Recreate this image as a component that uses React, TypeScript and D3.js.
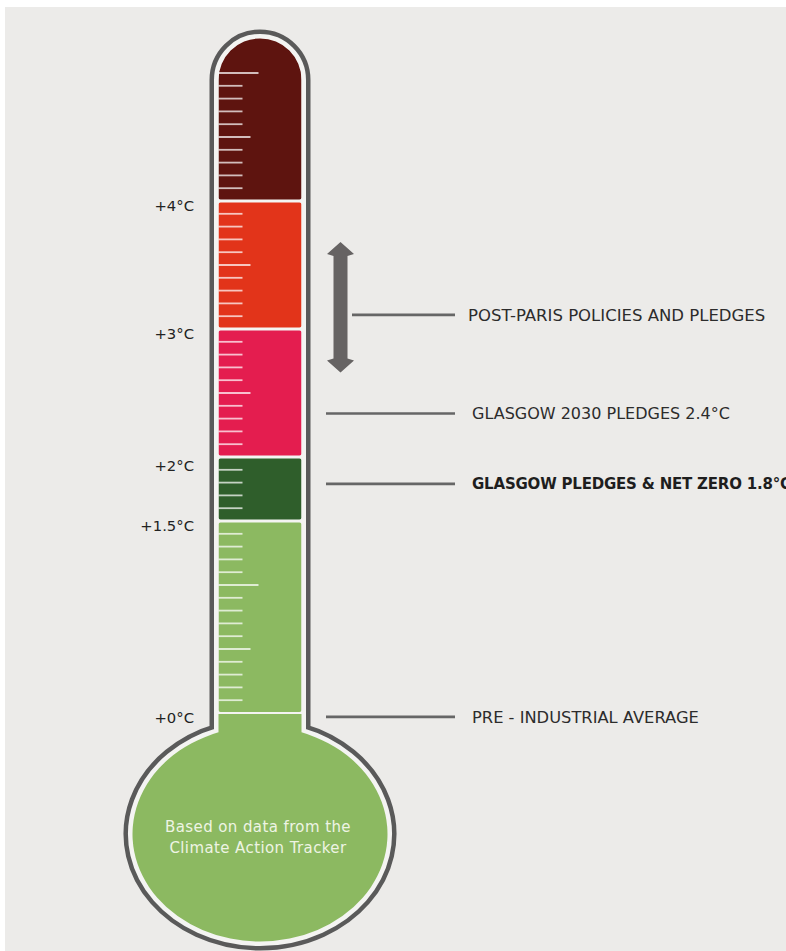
import React from "react";
import * as d3 from "d3";

// ---- data ----
const bandLows = [4, 3, 2, 1.5, 0];
const bandHighs = [5.27, 4, 3, 2, 1.5];
const bandColors = ["#5e140f", "#e2341a", "#e41d4f", "#2f5e2b", "#8cb961"];
const scaleLabels = ["+4°C", "+3°C", "+2°C", "+1.5°C", "+0°C"];
const scaleValues = [4, 3, 2, 1.5, 0];
const annotations = [
  "POST-PARIS POLICIES AND PLEDGES",
  "GLASGOW 2030 PLEDGES 2.4°C",
  "GLASGOW PLEDGES & NET ZERO 1.8°C",
  "PRE - INDUSTRIAL AVERAGE",
];
const annotationValues = [3.11, 2.34, 1.79, -0.03];
const annotationBold = [false, false, true, false];
const rangeArrow = [2.66, 3.68];
const bulbText = ["Based on data from the", "Climate Action Tracker"];

export default function App() {
  const W = 786;
  const H = 951;
  const y = d3.scaleLinear().domain([0, 5]).range([713, 73]);

  const cx = 260;
  const hw = 41.5;
  const topY = y(5.27);
  const r = hw;
  const bcx = 260;
  const bcy = 834;
  const brx = 127.5;
  const bry = 107.5;
  const yi = bcy - bry * Math.sqrt(1 - (hw / brx) ** 2);

  const p = d3.path();
  p.moveTo(cx - hw, yi);
  p.lineTo(cx - hw, topY + r);
  p.arc(cx, topY + r, r, Math.PI, 0, false);
  p.lineTo(cx + hw, yi);
  const outline =
    p.toString() +
    ` A ${brx} ${bry} 0 1 1 ${cx - hw} ${yi} Z`;

  const g = 1.6;
  const ticks = d3.range(1, 51).map((i) => i / 10).filter(
    (t) => !scaleValues.some((v) => Math.abs(v - t) < 1e-6)
  );

  const font = "'DejaVu Sans', Verdana, sans-serif";

  const aX = 340.5;
  const aTop = y(rangeArrow[1]);
  const aBot = y(rangeArrow[0]);
  const shaftW = 14;
  const headW = 27;
  const headL = 14;
  const arrowPath = [
    `M ${aX} ${aTop}`,
    `L ${aX + headW / 2} ${aTop + headL - 2}`,
    `L ${aX + shaftW / 2} ${aTop + headL}`,
    `L ${aX + shaftW / 2} ${aBot - headL}`,
    `L ${aX + headW / 2} ${aBot - headL + 2}`,
    `L ${aX} ${aBot}`,
    `L ${aX - headW / 2} ${aBot - headL + 2}`,
    `L ${aX - shaftW / 2} ${aBot - headL}`,
    `L ${aX - shaftW / 2} ${aTop + headL}`,
    `L ${aX - headW / 2} ${aTop + headL - 2}`,
    "Z",
  ].join(" ");

  const annSize = [16.5, 16, 15, 16.3];
  const annSpacing = [0, 0, -0.2, 0];

  return (
    <svg
      width={W}
      height={H}
      style={{ position: "absolute", left: 0, top: 0, background: "#fff" }}
    >
      <defs>
        <clipPath id="glass">
          <path d={outline} />
        </clipPath>
      </defs>
      <rect x={5} y={7} width={W - 5} height={H - 7} fill="#ecebe9" />

      <path d={outline} fill="none" stroke="#5a5a5a" strokeWidth={18} strokeLinejoin="miter" />
      <path d={outline} fill="#f4f4f2" stroke="#f4f4f2" strokeWidth={9} strokeLinejoin="miter" />

      <g clipPath="url(#glass)">
        {bandLows.map((lo, i) => {
          const hi = bandHighs[i];
          const top = i === 0 ? topY - 10 : y(hi) + g;
          const bot = y(lo) - (lo === 0 ? 1 : g);
          return (
            <rect
              key={i}
              x={cx - hw}
              y={top}
              width={hw * 2}
              height={bot - top}
              rx={2}
              fill={bandColors[i]}
            />
          );
        })}
        <rect x={0} y={y(0) + 1} width={W} height={H} fill={bandColors[4]} />
      </g>

      {ticks.map((t) => {
        const isInt = Math.abs(t - Math.round(t)) < 1e-6;
        const isHalf = !isInt && Math.abs(t * 2 - Math.round(t * 2)) < 1e-6;
        const len = isInt ? 40 : isHalf ? 32 : 24;
        return (
          <line
            key={t}
            x1={cx - hw}
            x2={cx - hw + len}
            y1={y(t)}
            y2={y(t)}
            stroke="#ffffff"
            strokeOpacity={0.72}
            strokeWidth={1.8}
          />
        );
      })}

      {scaleLabels.map((lab, i) => (
        <text
          key={lab}
          x={194}
          y={y(scaleValues[i]) + (scaleValues[i] === 2 ? 14 : 10)}
          textAnchor="end"
          fontFamily={font}
          fontSize={14.8}
          fill="#222"
        >
          {lab}
        </text>
      ))}

      <path d={arrowPath} fill="#666363" />

      {annotations.map((a, i) => {
        const yy = y(annotationValues[i]);
        const x1 = i === 0 ? 352 : 326;
        return (
          <g key={a}>
            <line x1={x1} x2={455} y1={yy} y2={yy} stroke="#666" strokeWidth={2.6} />
            <text
              x={i === 0 ? 468 : 472}
              y={yy}
              dy="0.36em"
              fontFamily={font}
              fontSize={annSize[i]}
              letterSpacing={annSpacing[i]}
              fontWeight={annotationBold[i] ? 700 : 400}
              fill={annotationBold[i] ? "#1e1e1e" : "#2c2c2c"}
            >
              {a}
            </text>
          </g>
        );
      })}

      {bulbText.map((t, i) => (
        <text
          key={t}
          x={bcx - 2}
          y={832 + i * 21}
          textAnchor="middle"
          fontFamily={font}
          fontSize={15}
          letterSpacing={0.4}
          fill="#eef4e4"
        >
          {t}
        </text>
      ))}
    </svg>
  );
}
